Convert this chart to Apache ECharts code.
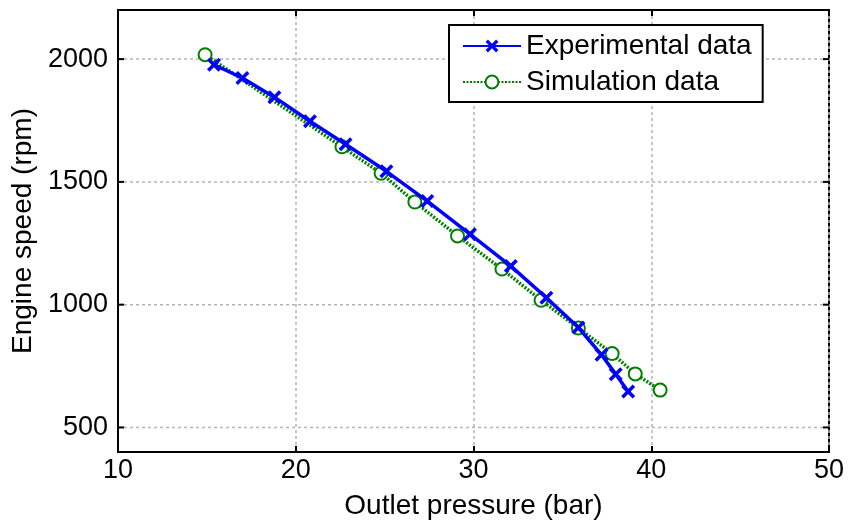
<!DOCTYPE html>
<html>
<head>
<meta charset="utf-8">
<script src="https://cdn.jsdelivr.net/npm/echarts@6/dist/echarts.min.js"></script>
<style>
html,body{margin:0;padding:0;background:#fff;}
#chart{width:851px;height:521px;}
</style>
</head>
<body>
<div id="chart"></div>
<script>
// Experimental data (blue, x markers)
var expPressure = [15.4, 17.0, 18.8, 20.8, 22.8, 25.1, 27.4, 29.8, 32.1, 34.1, 35.9, 37.2, 38.0, 38.7];
var expSpeed    = [1977, 1923, 1845, 1747, 1653, 1543, 1422, 1287, 1157, 1028, 907, 796, 717, 646];
// Simulation data (green, circle markers)
var simPressure = [14.9, 22.6, 24.8, 26.7, 29.1, 31.6, 33.8, 35.9, 37.8, 39.1, 40.5];
var simSpeed    = [2018, 1643, 1535, 1418, 1280, 1145, 1018, 905, 801, 718, 652];
var seriesNames = ['Experimental data', 'Simulation data'];
var xTicks = [10, 20, 30, 40, 50];
var yTicks = [500, 1000, 1500, 2000];

function zip(a, b) { return a.map(function (v, i) { return [v, b[i]]; }); }

var font = 'Liberation Sans, Arial, sans-serif';
var crossPath = 'path://M0,1.8 L1.8,0 L5,3.2 L8.2,0 L10,1.8 L6.8,5 L10,8.2 L8.2,10 L5,6.8 L1.8,10 L0,8.2 L3.2,5 Z';

var chart = echarts.init(document.getElementById('chart'), null, {renderer: 'canvas'});
var gridLine = {show: true, lineStyle: {color: '#b4b4b4', width: 1.5, type: [3, 3]}};
var option = {
  animation: false,
  backgroundColor: '#fff',
  grid: {left: 118, right: 22, top: 10, bottom: 69, show: true, borderColor: '#000', borderWidth: 2,
    backgroundColor: 'transparent', outerBoundsMode: 'none', containLabel: false},
  legend: {
    left: 449, top: 25, orient: 'vertical',
    padding: [7, 11, 6, 13], itemGap: 8,
    borderColor: '#000', borderWidth: 2, backgroundColor: '#fff',
    itemWidth: 58, itemHeight: 16,
    textStyle: {fontFamily: font, fontSize: 28, color: '#000'},
    data: seriesNames
  },
  xAxis: [{
    type: 'value', min: xTicks[0], max: xTicks[xTicks.length - 1], interval: 10,
    name: 'Outlet pressure (bar)', nameLocation: 'middle', nameGap: 40,
    nameTextStyle: {fontFamily: font, fontSize: 28, color: '#000'},
    axisLine: {show: true, lineStyle: {color: '#000', width: 2}},
    axisTick: {show: true, inside: true, length: 6, lineStyle: {color: '#000', width: 2}},
    axisLabel: {fontFamily: font, fontSize: 27, color: '#000', margin: 5},
    splitLine: gridLine
  }, {
    type: 'value', position: 'top', min: xTicks[0], max: xTicks[xTicks.length - 1], interval: 10,
    axisLine: {show: true, lineStyle: {color: '#000', width: 2}},
    axisTick: {show: true, inside: true, length: 6, lineStyle: {color: '#000', width: 2}},
    axisLabel: {show: false}, splitLine: {show: false}
  }],
  yAxis: [{
    type: 'value', min: 400, max: 2200, interval: 100,
    name: 'Engine speed (rpm)', nameLocation: 'middle', nameGap: 79,
    nameTextStyle: {fontFamily: font, fontSize: 28, color: '#000'},
    axisLine: {show: true, lineStyle: {color: '#000', width: 2}},
    axisTick: {show: false},
    axisLabel: {fontFamily: font, fontSize: 27, color: '#000', margin: 10,
      formatter: function (v) { return yTicks.indexOf(v) >= 0 ? String(v) : ''; }},
    splitLine: {show: false}
  }],
  series: [
    {
      name: seriesNames[0], type: 'line', data: zip(expPressure, expSpeed),
      symbol: crossPath, symbolSize: 14, showAllSymbol: true,
      itemStyle: {color: '#0000ff'},
      lineStyle: {color: '#0000ff', width: 3.5}, z: 3
    },
    {
      name: seriesNames[1], type: 'line', data: zip(simPressure, simSpeed),
      symbol: 'emptyCircle', symbolSize: 13, showAllSymbol: true,
      itemStyle: {color: '#008000', borderWidth: 3.5, borderColor: '#008000'},
      lineStyle: {color: '#008000', width: 3.5, type: [2, 1.5]}, z: 2
    }
  ],
  graphic: []
};
chart.setOption(option);

// Draw y grid lines and ticks at the labelled values using the axis scale
function drawYDecor() {
  var g = [];
  yTicks.forEach(function (v) {
    var p1 = chart.convertToPixel({xAxisIndex: 0, yAxisIndex: 0}, [xTicks[0], v]);
    var p2 = chart.convertToPixel({xAxisIndex: 0, yAxisIndex: 0}, [xTicks[xTicks.length - 1], v]);
    g.push({type: 'line', silent: true, z: 0, shape: {x1: p1[0], y1: p1[1], x2: p2[0], y2: p2[1]},
      style: {stroke: '#b4b4b4', lineWidth: 1.5, lineDash: [3, 3]}});
    g.push({type: 'line', silent: true, z: 5, shape: {x1: p1[0], y1: p1[1], x2: p1[0] + 6, y2: p1[1]},
      style: {stroke: '#000', lineWidth: 2}});
    g.push({type: 'line', silent: true, z: 5, shape: {x1: p2[0], y1: p2[1], x2: p2[0] - 6, y2: p2[1]},
      style: {stroke: '#000', lineWidth: 2}});
  });
  chart.setOption({graphic: g});
}
drawYDecor();
</script>
</body>
</html>
